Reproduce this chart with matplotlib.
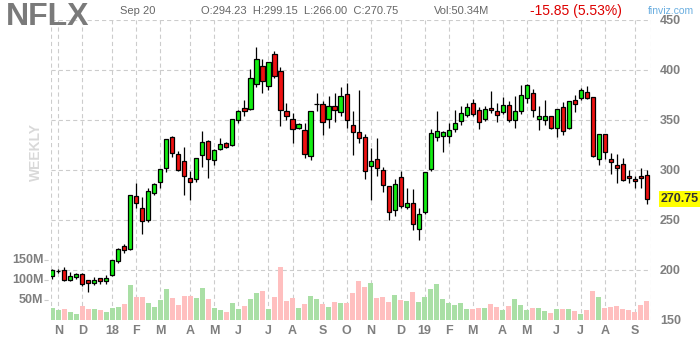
import matplotlib.pyplot as plt
import matplotlib.transforms as mtransforms
import pandas as pd

plt.rcParams["font.family"] = ["Liberation Sans", "DejaVu Sans"]
plt.rcParams["lines.scale_dashes"] = False

TICKER = "NFLX"
FIRST_WEEK = "2017-10-27"

opens = [193.2, 198.8, 199.2, 189.2, 192.2, 195.2, 189.2, 186.2, 191.2, 188.2,
         194.2, 208.2, 223.5, 220.2, 273.2, 261.2, 249.8, 276.2, 287.2, 301.2,
         332.2, 315.5, 308.2, 291.2, 290.2, 314.2, 328.2, 309.2, 320.5, 326.2,
         324.8, 349.2, 361.5, 360.2, 385.2, 403.2, 383.2, 415.2, 398.2, 358.2,
         350.8, 341.2, 339.2, 313.2, 365.8, 365.2, 350.2, 363.2, 357.2, 375.2,
         344.2, 337.2, 332.2, 303.2, 310.2, 299.2, 283.2, 259.2, 292.2, 262.2,
         266.2, 240.2, 257.8, 300.2, 332.2, 333.2, 333.2, 340.2, 348.2, 354.2,
         366.2, 359.2, 350.2, 361.2, 358.2, 357.2, 364.2, 349.2, 358.2, 371.2,
         376.2, 350.2, 349.2, 353.2, 341.2, 362.2, 341.2, 369.2, 371.2, 377.2,
         372.2, 310.2, 335.2, 310.2, 304.2, 305.2, 293.2, 290.5, 293.2, 294.23]
highs = [200.5, 200.2, 202.2, 197.2, 196.2, 196.8, 189.5, 192.2, 191.2, 194.5,
         209.5, 222.0, 225.5, 274.5, 286.8, 272.2, 281.2, 287.0, 300.5, 330.5,
         333.5, 318.5, 322.2, 298.5, 311.5, 338.5, 329.2, 320.5, 331.2, 327.2,
         350.5, 359.2, 369.5, 400.2, 422.5, 410.5, 407.5, 418.8, 402.2, 366.5,
         356.8, 346.2, 346.8, 358.5, 376.2, 368.5, 373.5, 376.2, 382.8, 386.8,
         358.2, 379.2, 335.2, 321.2, 331.2, 302.8, 284.0, 290.2, 298.2, 281.2,
         280.2, 261.2, 297.5, 340.2, 358.5, 338.8, 346.2, 359.2, 363.5, 366.2,
         370.2, 362.2, 363.5, 378.5, 366.2, 372.2, 368.2, 373.8, 384.2, 385.2,
         380.2, 363.2, 369.2, 353.5, 360.5, 367.2, 369.0, 374.8, 381.2, 383.5,
         372.5, 335.5, 335.5, 316.2, 315.2, 311.2, 299.2, 293.2, 301.2, 299.15]
lows = [190.2, 196.2, 188.8, 189.0, 190.8, 183.8, 177.8, 184.2, 185.2, 185.2,
        193.8, 206.8, 216.2, 219.8, 261.5, 235.2, 247.8, 274.2, 281.8, 297.2,
        312.2, 299.0, 274.8, 269.8, 287.8, 302.2, 291.8, 304.8, 319.8, 321.2,
        323.8, 346.8, 353.5, 359.5, 383.0, 376.8, 379.8, 392.0, 343.2, 349.8,
        326.8, 340.5, 311.5, 309.8, 358.5, 334.8, 341.8, 347.8, 353.2, 341.8,
        314.8, 326.2, 290.8, 269.8, 293.8, 277.2, 249.2, 253.2, 262.0, 260.2,
        239.5, 229.5, 255.8, 299.0, 328.2, 317.8, 326.8, 337.8, 344.2, 352.8,
        353.8, 340.8, 348.8, 356.2, 347.8, 355.2, 347.2, 341.2, 355.8, 366.8,
        352.2, 339.8, 344.2, 341.0, 332.2, 334.8, 340.5, 357.2, 369.2, 371.0,
        313.0, 304.8, 310.2, 295.8, 286.8, 289.0, 286.2, 281.5, 281.8, 266.0]
closes = [199.2, 198.8, 189.8, 193.5, 195.2, 185.2, 186.8, 189.2, 188.2, 191.5,
          209.2, 220.5, 219.2, 274.2, 266.2, 248.2, 278.2, 285.5, 300.2, 330.2,
          316.5, 299.2, 293.2, 287.2, 311.2, 327.2, 310.2, 319.2, 325.2, 322.2,
          350.2, 358.8, 358.2, 391.2, 410.5, 388.8, 407.2, 393.2, 359.2, 353.2,
          340.8, 345.2, 315.2, 358.2, 365.8, 347.2, 363.2, 359.2, 373.5, 349.2,
          337.2, 331.2, 298.2, 308.2, 301.2, 284.2, 257.2, 285.2, 263.2, 266.2,
          245.2, 255.2, 297.2, 336.2, 338.2, 337.2, 339.2, 346.2, 356.2, 362.2,
          355.2, 347.2, 360.2, 359.2, 354.2, 364.2, 349.2, 358.8, 374.2, 384.2,
          359.2, 353.2, 353.2, 341.2, 360.2, 338.2, 368.2, 365.2, 379.2, 371.2,
          313.2, 335.2, 317.2, 307.2, 301.2, 289.2, 291.2, 288.5, 291.2, 270.75]
# weekly volume, millions
volumes = [30, 23.3, 26.7, 20, 15, 35, 26.7, 26.7, 25, 20,
           30, 32.5, 40, 87.5, 57.5, 57.5, 42.5, 32.5, 50, 77.5,
           55, 37.5, 60, 60, 55, 80, 52.5, 30, 25, 20,
           42.5, 26.7, 35, 52.5, 67.5, 72.5, 26.7, 57.5, 132.5, 47.5,
           55, 30, 40, 60, 52.5, 40, 32.5, 45, 42.5, 42.5,
           67.5, 97.5, 82.5, 92.5, 55, 57.5, 45, 62.5, 50, 47.5,
           70, 45, 57.5, 77.5, 90, 52.5, 42.5, 37.5, 42.5, 26.7,
           26.7, 30, 30, 40, 32.5, 25, 35, 52.5, 37.5, 25,
           30, 30, 22.5, 17.5, 26.7, 26.7, 26.7, 22.5, 15, 25,
           72.5, 57.5, 30, 32.5, 35, 26.7, 25, 20, 37.5, 47.5]

# header quote
last_volume = 50.34
prev_day_close = 286.60

price_ticks = [150, 200, 250, 300, 350, 400, 450]
volume_ticks = [50, 100, 150]

GREEN = "#12ee12"
RED = "#ee1111"
VOL_GREEN = "#a9dfa5"
VOL_RED = "#ffbfbf"
GRID = "#cccccc"
LABEL = "#7f7f7f"
DASH = (0, (3, 2.2))

weeks = pd.date_range(FIRST_WEEK, periods=len(closes), freq="W-FRI")
x = list(range(len(closes)))

month_pos = []
month_lab = []
for i in range(1, len(weeks)):
    if weeks[i].month != weeks[i - 1].month:
        month_pos.append(i)
        if weeks[i].month == 1:
            month_lab.append(weeks[i].strftime("%y"))
        else:
            month_lab.append(weeks[i].strftime("%b")[0])

body_colors = []
vol_colors = []
for o, c in zip(opens, closes):
    if c > o:
        body_colors.append(GREEN)
    elif c < o:
        body_colors.append(RED)
    else:
        body_colors.append("black")
    vol_colors.append(VOL_GREEN if c >= o else VOL_RED)

fig = plt.figure(figsize=(7, 3.4), dpi=100)
ax = fig.add_axes([50.5 / 700, 20.5 / 340, 600.5 / 700, 300 / 340])
vax = ax.twinx()
ax.set_xlim(-0.3, 99.7)
ax.set_ylim(150, 450)
for s in ax.spines.values():
    s.set_visible(False)

for p in price_ticks[1:]:
    ax.axhline(p, color=GRID, lw=0.8, ls=DASH, zorder=0)
for m in month_pos + [-0.3, 99.7]:
    ax.axvline(m, color=GRID, lw=0.8, ls=DASH, zorder=0)

ax.yaxis.tick_right()
ax.set_yticks(price_ticks)
ax.tick_params(axis="y", length=0, pad=6.5, labelsize=9, labelcolor=LABEL,
               left=False, labelleft=False, right=False, labelright=True)
ax.set_xticks(month_pos, month_lab)
ax.tick_params(axis="x", length=0, pad=4, labelsize=9, labelcolor=LABEL)
for t in ax.get_xticklabels() + ax.get_yticklabels():
    t.set_fontweight("bold")

# candles
ax.vlines(x, lows, highs, color="black", lw=0.9, zorder=2)
bottoms = [min(o, c) for o, c in zip(opens, closes)]
heights = [abs(c - o) for o, c in zip(opens, closes)]
ax.bar(x, heights, bottom=bottoms, width=0.68, color=body_colors,
       edgecolor="black", linewidth=0.9, zorder=3)

# volume
vax.set_ylim(0, 750)
vax.bar(x, volumes, width=0.83, color=vol_colors, zorder=1)
vax.set_yticks([])
for s in vax.spines.values():
    s.set_visible(False)
trans = mtransforms.blended_transform_factory(vax.transAxes, vax.transData)
for v in volume_ticks:
    vax.plot([-7 / 600.5, 0], [v, v], color=GRID, lw=0.8, ls=DASH,
             transform=trans, clip_on=False)
    vax.text(-7 / 600.5, v - 2, f"{v}M", transform=trans, ha="right",
             va="center", fontsize=9, color=LABEL, fontweight="bold")

last = closes[-1]
vax.text(1 + 9.5 / 600.5, 750 * (last - 150) / 300, f"{last:.2f}",
         transform=trans, ha="left", va="center", fontsize=9,
         fontweight="bold", color="#333333",
         bbox=dict(boxstyle="square,pad=0.15", fc="#ffff00", ec="none"))

# header
change = closes[-1] - prev_day_close
fig.text(6 / 700, 1 - 17 / 340, TICKER, fontsize=23, fontweight="bold",
         color="#7a7a7a", va="center")
fig.text(36 / 700, 1 - 152 / 340, "WEEKLY", fontsize=10, fontweight="bold",
         color="#d9d9d9", rotation=90, ha="center", va="center")
hy = 1 - 10.5 / 340
fig.text(120 / 700, hy, weeks[-1].strftime("%b %d"), fontsize=8,
         color="#666666", va="center")
fig.text(201 / 700, hy,
         f"O:{opens[-1]:.2f}  H:{highs[-1]:.2f}  L:{lows[-1]:.2f}  C:{closes[-1]:.2f}",
         fontsize=8, color="#666666", va="center")
fig.text(434 / 700, hy, f"Vol:{last_volume:.2f}M", fontsize=8,
         color="#666666", va="center")
fig.text(530 / 700, hy, f"{change:.2f} ({abs(change) / prev_day_close * 100:.2f}%)",
         fontsize=10, color="#dd0000", va="center")
fig.text(648 / 700, hy, "finviz.com", fontsize=7.5, color="#6aaee0",
         va="center")

fig.savefig("out.png", dpi=100)
plt.close(fig)
